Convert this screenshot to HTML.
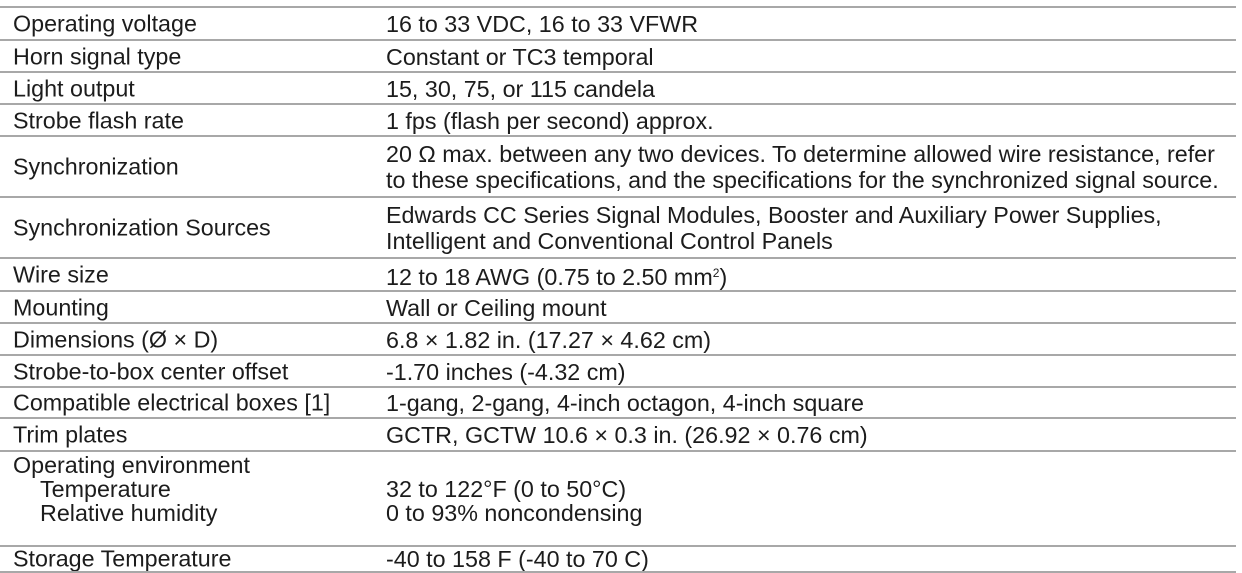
<!DOCTYPE html>
<html><head><meta charset="utf-8"><style>
body{margin:0;width:1242px;height:573px;background:#fff;overflow:hidden;font-family:"Liberation Sans",Arial,sans-serif;color:#1c1c1c;position:relative}
.line{position:absolute;left:0;width:1236px;height:2px;background:#a8a8a8}
.row{position:absolute;left:0;width:1236px;font-size:23.3px}
.k{position:absolute;left:13px;white-space:nowrap}
.v{position:absolute;left:386px;line-height:26px;white-space:nowrap}
.row .k,.row .v{top:50%;transform:translateY(-50%)}
.env{position:absolute;left:0;top:454px;font-size:23.3px;line-height:23.5px}
.env div{position:absolute;white-space:nowrap}
sup{font-size:12px;vertical-align:8px}
</style></head><body>
<div class="line" style="top:6px"></div>
<div class="row" style="top:8px;height:32px"><span class="k">Operating voltage</span><span class="v">16 to 33 VDC, 16 to 33 VFWR</span></div>
<div class="line" style="top:39px"></div>
<div class="row" style="top:41px;height:31px"><span class="k">Horn signal type</span><span class="v">Constant or TC3 temporal</span></div>
<div class="line" style="top:71px"></div>
<div class="row" style="top:73px;height:31px"><span class="k">Light output</span><span class="v">15, 30, 75, or 115 candela</span></div>
<div class="line" style="top:103px"></div>
<div class="row" style="top:105px;height:31px"><span class="k">Strobe flash rate</span><span class="v">1 fps (flash per second) approx.</span></div>
<div class="line" style="top:135px"></div>
<div class="row" style="top:137px;height:60px"><span class="k">Synchronization</span><span class="v">20 Ω max. between any two devices. To determine allowed wire resistance, refer<br>to these specifications, and the specifications for the synchronized signal source.</span></div>
<div class="line" style="top:196px"></div>
<div class="row" style="top:198px;height:60px"><span class="k">Synchronization Sources</span><span class="v">Edwards CC Series Signal Modules, Booster and Auxiliary Power Supplies,<br>Intelligent and Conventional Control Panels</span></div>
<div class="line" style="top:257px"></div>
<div class="row" style="top:259px;height:31px"><span class="k">Wire size</span><span class="v">12 to 18 AWG (0.75 to 2.50 mm<sup>2</sup>)</span></div>
<div class="line" style="top:290px"></div>
<div class="row" style="top:292px;height:31px"><span class="k">Mounting</span><span class="v">Wall or Ceiling mount</span></div>
<div class="line" style="top:322px"></div>
<div class="row" style="top:324px;height:31px"><span class="k">Dimensions (Ø × D)</span><span class="v">6.8 × 1.82 in. (17.27 × 4.62 cm)</span></div>
<div class="line" style="top:354px"></div>
<div class="row" style="top:356px;height:31px"><span class="k">Strobe-to-box center offset</span><span class="v">-1.70 inches (-4.32 cm)</span></div>
<div class="line" style="top:386px"></div>
<div class="row" style="top:388px;height:30px"><span class="k">Compatible electrical boxes [1]</span><span class="v">1-gang, 2-gang, 4-inch octagon, 4-inch square</span></div>
<div class="line" style="top:417px"></div>
<div class="row" style="top:419px;height:31px"><span class="k">Trim plates</span><span class="v">GCTR, GCTW 10.6 × 0.3 in. (26.92 × 0.76 cm)</span></div>
<div class="line" style="top:450px"></div>
<div class="env">
<div style="left:13px;top:0">Operating environment</div>
<div style="left:40px;top:24px">Temperature</div>
<div style="left:386px;top:24px">32 to 122°F (0 to 50°C)</div>
<div style="left:40px;top:48px">Relative humidity</div>
<div style="left:386px;top:48px">0 to 93% noncondensing</div>
</div>
<div class="line" style="top:545px"></div>
<div class="row" style="top:547px;height:24px"><span class="k">Storage Temperature</span><span class="v">-40 to 158 F (-40 to 70 C)</span></div>
<div class="line" style="top:571px"></div>
</body></html>
